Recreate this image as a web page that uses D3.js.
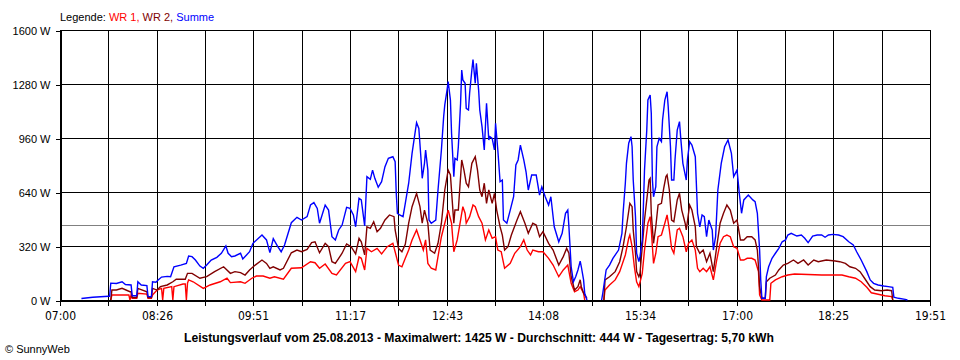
<!DOCTYPE html>
<html>
<head>
<meta charset="utf-8">
<script src="https://cdn.jsdelivr.net/npm/d3@7"></script>
<style>
  html, body { margin: 0; padding: 0; background: #fff; }
  svg { display: block; }
  .lbl { font-family: "Liberation Sans", Arial, sans-serif; font-size: 11px; fill: #000; }
  .xl { font-family: "Liberation Sans Narrow", "DejaVu Sans Condensed", sans-serif; font-size: 12px; fill: #000; }
</style>
</head>
<body>
<svg id="chart" width="960" height="360"></svg>
<script>
// ---- data ----
const xLabels = ["07:00","08:26","09:51","11:17","12:43","14:08","15:34","17:00","18:25","19:51"];
const yTicks = [0, 320, 640, 960, 1280, 1600];
const average = 444;
const title = "Leistungsverlauf vom 25.08.2013 - Maximalwert: 1425 W - Durchschnitt: 444 W - Tagesertrag: 5,70 kWh";

const wr1 = [["07:45",0],["07:46",30],["08:01",30],["08:02",0],["08:03",30],["08:04",10],["08:08",10],["08:09",40],["08:17",35],["08:18",10],["08:21",10],["08:22",30],["08:26",59],["08:30",69],["08:31",0],["08:32",69],["08:39",79],["08:40",0],["08:41",79],["08:49",95],["08:51",95],["08:52",0],["08:53",100],["08:54",119],["08:58",108],["09:07",69],["09:13",89],["09:22",108],["09:28",129],["09:31",103],["09:40",108],["09:44",99],["09:50",129],["09:54",142],["10:00",142],["10:06",129],["10:10",138],["10:18",123],["10:25",188],["10:34",191],["10:42",227],["10:46",221],["10:50",188],["10:55",213],["11:01",158],["11:05",148],["11:13",217],["11:17",227],["11:22",168],["11:25",255],["11:27",247],["11:30",178],["11:32",306],["11:36",286],["11:41",306],["11:45",273],["11:50",316],["11:55",336],["11:57",286],["12:00",207],["12:03",197],["12:06",247],["12:09",296],["12:12",356],["12:16",415],["12:19",356],["12:22",296],["12:24",356],["12:26",217],["12:29",188],["12:33",178],["12:35",257],["12:38",375],["12:41",455],["12:44",533],["12:47",455],["12:49",286],["12:52",356],["12:55",474],["12:57",553],["12:59",514],["13:00",455],["13:03",494],["13:06",563],["13:08",553],["13:11",494],["13:14",455],["13:17",356],["13:20",415],["13:23",366],["13:26",375],["13:28",296],["13:31",286],["13:34",188],["13:39",217],["13:43",277],["13:48",316],["13:51",356],["13:54",296],["13:57",267],["13:59",296],["14:04",286],["14:08",286],["14:13",247],["14:17",207],["14:22",138],["14:26",178],["14:30",207],["14:33",99],["14:36",49],["14:39",59],["14:41",79],["14:44",40],["14:45",0],["14:48",null],["15:02",0],["15:03",59],["15:07",89],["15:12",119],["15:16",168],["15:21",267],["15:24",366],["15:25",385],["15:27",316],["15:29",197],["15:31",108],["15:33",79],["15:36",158],["15:38",296],["15:41",455],["15:43",494],["15:44",415],["15:46",217],["15:48",277],["15:50",375],["15:53",385],["15:56",455],["15:58",504],["16:00",415],["16:02",306],["16:04",277],["16:07",415],["16:09",425],["16:12",375],["16:15",286],["16:17",336],["16:20",356],["16:23",296],["16:25",188],["16:27",168],["16:30",188],["16:33",168],["16:36",197],["16:39",119],["16:42",237],["16:45",336],["16:48",375],["16:51",385],["16:54",375],["16:57",316],["17:00",306],["17:03",237],["17:06",237],["17:09",247],["17:13",247],["17:16",237],["17:19",168],["17:20",30],["17:22",0],["17:29",0],["17:30",99],["17:34",119],["17:40",138],["17:45",148],["17:51",154],["18:15",148],["18:33",148],["18:39",138],["18:45",129],["18:50",108],["18:55",75],["18:59",43],["19:05",34],["19:11",25],["19:17",20],["19:18",0]];

const wr2 = [["07:45",0],["07:46",59],["07:50",59],["07:55",69],["08:02",49],["08:03",49],["08:04",15],["08:08",15],["08:09",69],["08:17",49],["08:18",15],["08:21",15],["08:22",69],["08:26",59],["08:29",79],["08:35",89],["08:40",108],["08:43",123],["08:51",123],["08:53",158],["08:57",158],["09:04",129],["09:10",138],["09:17",168],["09:25",197],["09:31",158],["09:35",168],["09:40",162],["09:44",148],["09:48",178],["09:53",207],["09:59",237],["10:03",217],["10:06",188],["10:09",197],["10:15",178],["10:18",188],["10:25",280],["10:30",296],["10:34",286],["10:39",300],["10:43",340],["10:46",345],["10:50",280],["10:55",336],["10:58",316],["11:01",227],["11:04",217],["11:10",277],["11:14",332],["11:18",316],["11:22",273],["11:25",366],["11:27",345],["11:30",267],["11:32",434],["11:35",425],["11:38",464],["11:41",405],["11:44",425],["11:48",474],["11:52",504],["11:56",494],["11:57",415],["12:00",306],["12:03",286],["12:06",330],["12:09",455],["12:12",553],["12:16",632],["12:19",553],["12:21",455],["12:23",533],["12:26",455],["12:28",296],["12:32",277],["12:35",336],["12:38",455],["12:41",652],["12:44",770],["12:46",741],["12:49",455],["12:50",533],["12:53",533],["12:56",830],["12:58",770],["13:00",692],["13:02",671],["13:05",810],["13:08",849],["13:10",770],["13:12",652],["13:14",612],["13:16",692],["13:18",573],["13:20",652],["13:23",573],["13:25",632],["13:27",533],["13:30",434],["13:32",385],["13:34",296],["13:37",316],["13:40",385],["13:45",474],["13:48",523],["13:52",455],["13:55",395],["13:59",455],["14:02",444],["14:05",375],["14:08",405],["14:13",336],["14:17",296],["14:22",207],["14:26",257],["14:29",306],["14:31",277],["14:33",138],["14:36",59],["14:39",79],["14:41",120],["14:42",79],["14:44",40],["14:47",10],["14:48",null],["15:02",0],["15:03",119],["15:07",138],["15:12",168],["15:16",227],["15:19",316],["15:22",434],["15:25",573],["15:27",553],["15:28",415],["15:30",277],["15:31",168],["15:33",138],["15:34",158],["15:36",316],["15:38",474],["15:40",593],["15:42",711],["15:43",721],["15:44",514],["15:46",336],["15:48",434],["15:50",563],["15:53",573],["15:55",662],["15:57",731],["15:58",741],["16:00",652],["16:02",474],["16:04",464],["16:07",593],["16:09",632],["16:11",533],["16:14",455],["16:15",415],["16:18",563],["16:20",533],["16:23",434],["16:24",316],["16:27",277],["16:30",296],["16:33",227],["16:36",277],["16:39",168],["16:42",316],["16:45",455],["16:48",514],["16:51",563],["16:54",533],["16:57",455],["17:00",474],["17:03",356],["17:06",356],["17:09",375],["17:13",375],["17:16",356],["17:18",296],["17:19",197],["17:20",79],["17:22",10],["17:25",10],["17:26",108],["17:29",129],["17:34",148],["17:37",178],["17:41",207],["17:45",217],["17:50",237],["17:54",217],["17:59",237],["18:03",207],["18:08",237],["18:12",227],["18:19",237],["18:27",231],["18:31",227],["18:36",217],["18:40",197],["18:45",188],["18:49",168],["18:53",129],["18:58",79],["19:02",59],["19:08",55],["19:13",59],["19:17",55],["19:18",0]];

const summe = [["07:19",9],["07:29",16],["07:43",22],["07:44",22],["07:45",100],["07:50",98],["07:55",108],["07:58",92],["08:03",89],["08:04",25],["08:08",25],["08:09",108],["08:12",89],["08:17",85],["08:18",20],["08:21",20],["08:22",108],["08:25",105],["08:27",119],["08:30",136],["08:35",140],["08:38",138],["08:41",197],["08:47",207],["08:52",217],["08:54",261],["08:57",257],["09:00",237],["09:04",201],["09:07",188],["09:10",207],["09:14",237],["09:19",253],["09:23",277],["09:27",320],["09:29",277],["09:32",257],["09:35",261],["09:40",277],["09:42",243],["09:48",286],["09:51",336],["09:59",385],["10:03",356],["10:06",281],["10:09",363],["10:13",316],["10:16",286],["10:19",326],["10:25",458],["10:30",490],["10:34",474],["10:39",494],["10:42",563],["10:45",577],["10:48",543],["10:50",455],["10:55",563],["10:58",533],["11:01",375],["11:04",356],["11:07",415],["11:10",444],["11:14",549],["11:17",543],["11:20",504],["11:22",434],["11:25",603],["11:27",593],["11:30",439],["11:32",731],["11:35",715],["11:37",770],["11:39",721],["11:42",668],["11:45",701],["11:48",790],["11:51",840],["11:55",849],["11:57",820],["11:58",632],["11:59",514],["12:01",504],["12:04",494],["12:06",573],["12:09",692],["12:12",869],["12:15",1007],["12:16",1051],["12:18",1017],["12:20",830],["12:21",721],["12:23",810],["12:24",889],["12:26",770],["12:27",474],["12:29",455],["12:33",474],["12:35",652],["12:38",889],["12:40",1086],["12:41",1156],["12:43",1244],["12:44",1294],["12:46",1185],["12:47",988],["12:49",731],["12:50",840],["12:52",830],["12:53",908],["12:55",1166],["12:56",1363],["12:57",1304],["12:59",1284],["13:00",1136],["13:02",1126],["13:03",1225],["13:05",1363],["13:06",1425],["13:08",1284],["13:09",1403],["13:11",1244],["13:12",1126],["13:14",1027],["13:16",889],["13:18",1166],["13:20",948],["13:21",968],["13:23",958],["13:25",889],["13:26",1047],["13:28",889],["13:30",701],["13:32",711],["13:33",474],["13:36",455],["13:39",533],["13:42",612],["13:44",800],["13:46",830],["13:48",918],["13:51",830],["13:53",760],["13:55",652],["13:58",741],["14:02",741],["14:03",701],["14:05",622],["14:07",671],["14:10",612],["14:13",563],["14:15",612],["14:18",434],["14:22",345],["14:25",395],["14:28",514],["14:30",533],["14:31",434],["14:33",197],["14:35",108],["14:37",138],["14:39",178],["14:41",230],["14:42",197],["14:44",119],["14:45",40],["14:47",0],["14:48",null],["15:00",0],["15:01",40],["15:04",178],["15:07",207],["15:10",247],["15:15",296],["15:18",395],["15:19",514],["15:21",692],["15:22",810],["15:24",929],["15:26",968],["15:27",908],["15:28",711],["15:30",494],["15:31",277],["15:33",227],["15:34",257],["15:36",356],["15:37",553],["15:38",770],["15:40",1007],["15:41",1185],["15:43",1215],["15:44",1106],["15:45",711],["15:46",612],["15:48",671],["15:49",908],["15:51",958],["15:53",938],["15:54",1067],["15:56",1185],["15:58",1234],["15:59",1145],["16:01",908],["16:02",711],["16:04",711],["16:05",830],["16:07",1007],["16:09",1057],["16:10",968],["16:12",810],["16:15",711],["16:16",830],["16:18",938],["16:20",918],["16:23",849],["16:25",514],["16:27",434],["16:29",504],["16:31",494],["16:33",375],["16:35",474],["16:38",415],["16:39",296],["16:41",375],["16:43",652],["16:46",810],["16:49",908],["16:52",948],["16:55",869],["16:57",731],["17:00",770],["17:02",632],["17:04",514],["17:06",593],["17:10",622],["17:14",593],["17:16",583],["17:18",514],["17:20",296],["17:21",119],["17:22",10],["17:25",10],["17:26",138],["17:28",197],["17:31",247],["17:34",277],["17:37",306],["17:40",345],["17:43",356],["17:45",385],["17:48",395],["17:53",379],["17:57",385],["18:00",366],["18:03",340],["18:07",379],["18:11",385],["18:15",385],["18:18",372],["18:21",385],["18:25",389],["18:30",385],["18:34",375],["18:39",345],["18:43",326],["18:46",286],["18:50",237],["18:55",168],["18:58",119],["19:01",99],["19:05",89],["19:10",83],["19:14",79],["19:18",75],["19:19",16],["19:23",10],["19:29",4],["19:31",0]];

// ---- drawing ----
const toMin = s => { const [h, m] = s.split(":").map(Number); return h * 60 + m; };
const svg = d3.select("#chart");
const t0 = toMin(xLabels[0]), t1 = toMin(xLabels[xLabels.length - 1]);
const x = d3.scaleLinear().domain([t0, t1]).range([60, 930]);
const y = d3.scaleLinear().domain([0, 1600]).range([300, 30]);

// grid positions: labels plus midpoints
const gridTimes = d3.range(19).map(i => t0 + i * (t1 - t0) / 18);

const grid = svg.append("g").attr("shape-rendering", "crispEdges");
grid.selectAll("line.v").data(gridTimes).join("line")
  .attr("x1", d => Math.round(x(d)) + 0.5).attr("x2", d => Math.round(x(d)) + 0.5)
  .attr("y1", y(1600)).attr("y2", y(0)).attr("stroke", "#000");
grid.selectAll("line.h").data(yTicks).join("line")
  .attr("x1", 60).attr("x2", 930.5)
  .attr("y1", d => y(d) + 0.5).attr("y2", d => y(d) + 0.5).attr("stroke", "#000");
// average line
grid.append("line").attr("x1", 60.5).attr("x2", 930)
  .attr("y1", Math.round(y(average)) + 0.5).attr("y2", Math.round(y(average)) + 0.5)
  .attr("stroke", "#808080");

// axes
const yAxis = d3.axisLeft(y).tickValues(yTicks).tickFormat(d => d + " W").tickSize(5).tickSizeOuter(0).tickPadding(5);
const gy = svg.append("g").attr("transform", "translate(60.5,0.5)").call(yAxis);
gy.selectAll("text").attr("class", "lbl").attr("font-family", null).attr("font-size", null);
gy.selectAll("line,path").attr("stroke", "#000").attr("shape-rendering", "crispEdges");

const xAxis = d3.axisBottom(x).tickValues(gridTimes)
  .tickFormat((d, i) => i % 2 === 0 ? xLabels[i / 2] : "").tickSize(5).tickSizeOuter(0).tickPadding(6);
const gx = svg.append("g").attr("transform", "translate(0.5,300.5)").call(xAxis);
gx.selectAll("text").attr("class", "xl").attr("font-family", null).attr("font-size", null);
gx.selectAll("line,path").attr("stroke", "#000").attr("shape-rendering", "crispEdges");
gx.selectAll(".tick").attr("transform", d => `translate(${Math.round(x(d))},0)`);

// series
const line = d3.line()
  .defined(d => d[1] !== null)
  .x(d => x(toMin(d[0])))
  .y(d => y(d[1]));

const series = [
  { data: wr1, color: "#ff0000" },
  { data: wr2, color: "#800000" },
  { data: summe, color: "#0000ff" }
];
svg.append("g").selectAll("path").data(series).join("path")
  .attr("d", d => line(d.data))
  .attr("fill", "none")
  .attr("stroke", d => d.color)
  .attr("stroke-width", 1.4)
  .attr("stroke-linejoin", "miter");

// legend
const leg = svg.append("text").attr("class", "lbl").attr("x", 60).attr("y", 21);
leg.append("tspan").text("Legende: ");
leg.append("tspan").attr("fill", "#ff0000").text("WR 1, ");
leg.append("tspan").attr("fill", "#800000").text("WR 2, ");
leg.append("tspan").attr("fill", "#0000ff").text("Summe");

// title
svg.append("text")
  .attr("x", 184).attr("y", 342)
  .attr("font-family", "'Liberation Sans', Arial, sans-serif")
  .attr("font-weight", "bold").attr("font-size", 12)
  .attr("textLength", 590).attr("lengthAdjust", "spacingAndGlyphs")
  .text(title);

// copyright
svg.append("text").attr("class", "lbl").attr("x", 5).attr("y", 353).text("© SunnyWeb");
</script>
</body>
</html>
